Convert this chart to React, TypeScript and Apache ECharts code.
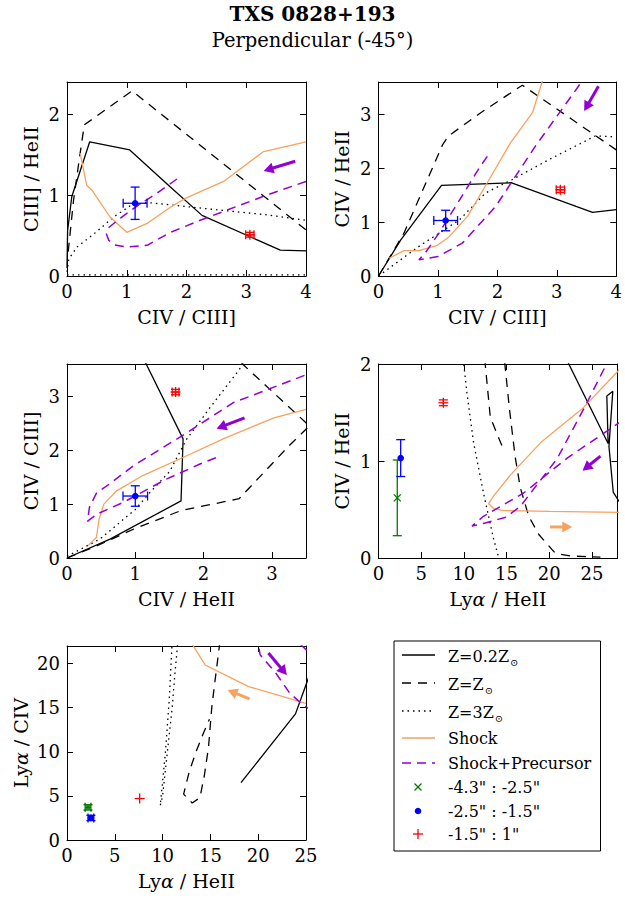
import React, { useEffect, useRef } from "react";
import * as echarts from "echarts";

const FONT = '"DejaVu Serif", "Liberation Serif", serif';
const BLACK = "#000000";
const ORANGE = "#f7a25e";
const PURPLE = "#9400d3";
const GREEN = "#007a00";
const BLUE = "#0000ff";
const RED = "#ff0000";

// ---------- Panel 1: CIV/CIII] vs CIII]/HeII ----------
const p1Z02 = [[0, 0.1], [0.01, 0.56], [0.08, 0.98], [0.38, 1.66], [1.05, 1.56], [1.73, 1.1], [2.26, 0.75], [3.57, 0.32], [4.0, 0.31]];
const p1Z1 = [[0.02, 0.3], [0.11, 0.94], [0.22, 1.52], [0.29, 1.87], [1.09, 2.29], [4.0, 0.57]];
const p1Z3 = [[0.0, 0.05], [0.03, 0.21], [0.17, 0.36], [0.45, 0.52], [0.78, 0.73], [1.06, 0.87], [1.34, 0.91], [1.73, 0.88], [2.5, 0.82], [3.3, 0.76], [4.0, 0.69]];
const p1Z3Floor = [[0, 0.015], [4, 0.015]];
const p1Shock = [[0.22, 1.52], [0.33, 1.12], [0.42, 1.06], [0.72, 0.73], [1.0, 0.54], [1.34, 0.65], [1.73, 0.85], [1.98, 0.96], [2.62, 1.17], [3.29, 1.54], [4.0, 1.66]];
const p1Prec = [[1.84, 1.2], [1.5, 1.02], [1.2, 0.88], [0.9, 0.72], [0.7, 0.6], [0.66, 0.52], [0.7, 0.44], [0.82, 0.38], [1.0, 0.36], [1.34, 0.38], [1.73, 0.54], [2.23, 0.69], [3.34, 1.0], [4.0, 1.17]];
const p1PrecArrow = [[3.82, 1.42, 3.29, 1.3]];
const p1Blue = [[1.14, 0.9, 0.2, 0.2]];
const p1Red = [[3.06, 0.51, 0.07, 0.03]];

// ---------- Panel 2: CIV/CIII] vs CIV/HeII ----------
const p2Z02 = [[0, 0], [0.375, 0.67], [1.06, 1.68], [2.24, 1.73], [3.6, 1.18], [4.0, 1.23]];
const p2Z1 = [[0, 0], [0.43, 0.8], [1.08, 2.44], [1.18, 2.6], [1.72, 3.03], [2.42, 3.54], [4.0, 2.34]];
const p2Z3 = [[0, 0], [0.68, 0.55], [1.36, 1.04], [1.8, 1.54], [2.25, 1.79], [2.92, 2.19], [3.65, 2.6], [4.0, 2.58]];
const p2Shock = [[0.18, 0.33], [0.43, 0.47], [0.68, 0.47], [0.99, 0.57], [1.19, 0.73], [1.5, 1.11], [1.83, 1.73], [2.22, 2.47], [2.59, 3.03], [2.78, 3.7]];
const p2Prec = [[1.83, 2.22], [1.68, 1.98], [1.47, 1.6], [1.02, 0.8], [0.8, 0.45], [0.68, 0.3], [1.0, 0.36], [1.41, 0.61], [1.97, 1.29], [2.64, 2.41], [3.37, 3.53], [3.45, 3.7]];
const p2PrecArrow = [[3.7, 3.52, 3.46, 3.06]];
const p2Blue = [[1.13, 1.03, 0.2, 0.19]];
const p2Red = [[3.06, 1.6, 0.07, 0.05]];

// ---------- Panel 3: CIV/HeII vs CIV/CIII] ----------
const p3Z02 = [[0, 0], [0.63, 0.35], [1.67, 1.06], [1.7, 2.21], [1.16, 3.6], [1.1, 3.7]];
const p3Z1 = [[0, 0], [0.43, 0.22], [1.0, 0.55], [1.67, 0.88], [2.52, 1.1], [3.25, 2.08], [3.55, 2.45], [2.57, 3.6], [2.5, 3.7]];
const p3Z3 = [[0, 0.03], [0.48, 0.35], [1.0, 0.9], [1.21, 1.21], [1.5, 1.6], [1.75, 2.2], [2.1, 2.8], [2.52, 3.49], [2.6, 3.65]];
const p3Shock = [[0.31, 0.23], [0.43, 0.38], [0.47, 0.72], [0.54, 1.0], [0.72, 1.24], [1.11, 1.53], [1.69, 1.86], [2.32, 2.23], [3.03, 2.6], [3.5, 2.76]];
const p3Prec = [[2.18, 1.86], [1.94, 1.74], [1.45, 1.46], [0.82, 1.03], [0.45, 0.82], [0.34, 0.72], [0.3, 0.68], [0.33, 0.95], [0.43, 1.2], [0.65, 1.4], [0.97, 1.71], [1.75, 2.32], [2.43, 2.88], [3.5, 3.4]];
const p3PrecArrow = [[2.6, 2.6, 2.19, 2.4]];
const p3Blue = [[1.0, 1.15, 0.18, 0.19]];
const p3Red = [[1.59, 3.08, 0.05, 0.05]];

// ---------- Panel 4: Lya/HeII vs CIV/HeII ----------
const p4Z02 = [[21.9, 2.07], [26.9, 1.18], [26.75, 1.67], [27.45, 1.72], [27.0, 1.15], [27.5, 0.68], [28.2, 0.58]];
const p4Z1 = [[14.45, 1.16], [13.1, 1.45], [12.5, 2.0], [12.4, 2.3], [14.7, 2.3], [14.8, 2.0], [15.35, 1.53], [16.0, 1.05], [16.6, 0.73], [17.6, 0.43], [18.8, 0.24], [20.7, 0.05], [22.5, 0.02], [26.0, 0.01]];
const p4Z3 = [[9.9, 2.05], [10.0, 1.99], [10.36, 1.7], [11.14, 1.19], [12.3, 0.67], [13.5, 0.19], [14.1, 0.0]];
const p4Shock = [[28.3, 1.95], [24, 1.55], [19, 1.19], [15.5, 0.86], [13.5, 0.64], [12.9, 0.56], [13.5, 0.51], [14.5, 0.49], [20, 0.48], [28.3, 0.47]];
const p4Prec = [[27.0, 2.1], [26.6, 1.98], [24.3, 1.58], [20.9, 1.02], [18.6, 0.76], [16.6, 0.53], [14.9, 0.42], [12.5, 0.36], [10.95, 0.33], [12.3, 0.43], [17.0, 0.67], [22.1, 1.03], [28.3, 1.4]];
const p4PrecArrow = [[26.0, 1.05, 23.9, 0.9]];
const p4ShockArrow = [[20.1, 0.32, 22.7, 0.32]];
const p4Green = [[2.2, 0.62, 0, 0.39]];
const p4Blue = [[2.6, 1.03, 0, 0.19]];
const p4Red = [[7.6, 1.6, 0, 0.03]];

// ---------- Panel 5: Lya/HeII vs Lya/CIV ----------
const p5Z02 = [[18.2, 6.5], [23.9, 14.3], [25.3, 18.5]];
const p5Z1 = [[16.0, 22.5], [15.5, 18.2], [15.15, 15.1], [14.8, 10.5], [14.35, 7.2], [13.9, 4.8], [13.1, 4.2], [12.2, 5.2], [12.8, 7.8], [13.6, 10.3], [14.3, 12.2], [14.9, 13.7]];
const p5Z3 = [[11.0, 22.5], [10.7, 16], [10.3, 10], [9.9, 5.5], [9.75, 3.9], [10.0, 5.0], [10.5, 10], [11.0, 15], [11.3, 19], [11.6, 22.5]];
const p5Shock = [[13.1, 22.2], [14.45, 19.85], [19.0, 17.4], [25.0, 15.5]];
const p5Prec = [[24.4, 22.2], [25.3, 21.3], [25.3, 23], [19.9, 23], [20.2, 21.0], [21.8, 19.0], [23.3, 16.65], [24.7, 15.3], [25.3, 14.9]];
const p5PrecArrow = [[21.07, 21.2, 23.0, 18.7]];
const p5ShockArrow = [[19.1, 16.0, 16.8, 17.0]];
const p5Green = [[2.2, 3.7, 0.3, 0.3]];
const p5Blue = [[2.5, 2.5, 0.3, 0.3]];
const p5Red = [[7.6, 4.7, 0, 0]];

// axis extents [min, max, step] and titles
const xRanges = [[0, 4, 1], [0, 4, 1], [0, 3.5, 1], [0, 28, 5], [0, 25, 5]];
const yRanges = [[0, 2.4, 1], [0, 3.6, 1], [0, 3.6, 1], [0, 2, 1], [0, 22, 5]];
const xNames = ["CIV / CIII]", "CIV / CIII]", "CIV / HeII", "Ly{g|α} / HeII", "Ly{g|α} / HeII"];
const yNames = ["CIII] / HeII", "CIV / HeII", "CIV / CIII]", "CIV / HeII", "Ly{g|α} / CIV"];

const GRID_POS = [[67, 82], [378.5, 82], [67, 364], [378.5, 364], [67, 646]];
const GRID_W = 239;
const GRID_H = 194;

const DASH = [9, 7];
const DOT = [1.5, 4];
const PDASH = [9, 6];

const nameStyle = {
  fontFamily: FONT,
  fontSize: 19,
  color: BLACK,
  rich: { g: { fontFamily: FONT, fontSize: 19, fontStyle: "italic", color: BLACK } },
};

function tickFormatter(step: number) {
  return (v: number) => {
    const k = v / step;
    return Math.abs(k - Math.round(k)) < 1e-6 ? String(Math.round(v)) : "";
  };
}

function makeAxes(i: number) {
  const [xmin, xmax, xstep] = xRanges[i];
  const [ymin, ymax, ystep] = yRanges[i];
  const line = { show: true, onZero: false, lineStyle: { color: BLACK, width: 1 } };
  const tick = { show: true, inside: true, length: 6, lineStyle: { color: BLACK, width: 1 } };
  const label = { fontFamily: FONT, fontSize: 18, color: BLACK };
  const xBottom = {
    type: "value", gridIndex: i, position: "bottom", min: xmin, max: xmax, interval: xstep,
    axisLine: line, axisTick: tick, splitLine: { show: false },
    axisLabel: { ...label, margin: 6, formatter: tickFormatter(xstep) },
    name: xNames[i], nameLocation: "middle", nameGap: 31, nameTextStyle: nameStyle,
  };
  const xTop = {
    type: "value", gridIndex: i, position: "top", min: xmin, max: xmax, interval: xstep,
    axisLine: line, axisTick: tick, splitLine: { show: false }, axisLabel: { show: false },
  };
  const yLeft = {
    type: "value", gridIndex: i, position: "left", min: ymin, max: ymax, interval: ystep,
    axisLine: line, axisTick: tick, splitLine: { show: false },
    axisLabel: { ...label, margin: 7, formatter: tickFormatter(ystep) },
    name: yNames[i], nameLocation: "middle", nameGap: i === 4 ? 37 : 27, nameRotate: 90, nameTextStyle: nameStyle,
  };
  const yRight = {
    type: "value", gridIndex: i, position: "right", min: ymin, max: ymax, interval: ystep,
    axisLine: line, axisTick: tick, splitLine: { show: false }, axisLabel: { show: false },
  };
  return { x: [xBottom, xTop], y: [yLeft, yRight] };
}

function curve(i: number, data: number[][], color: string, type: any, width: number) {
  return {
    type: "line", xAxisIndex: 2 * i, yAxisIndex: 2 * i, data,
    showSymbol: false, symbol: "none", silent: true, clip: true, z: 2,
    lineStyle: { color, width, type },
  };
}

function arrowSeries(i: number, data: number[][], color: string) {
  return {
    type: "custom", coordinateSystem: "cartesian2d", xAxisIndex: 2 * i, yAxisIndex: 2 * i,
    data, silent: true, z: 4, encode: { x: [0, 2], y: [1, 3] },
    renderItem: (_p: any, api: any) => {
      const a = api.coord([api.value(0), api.value(1)]);
      const b = api.coord([api.value(2), api.value(3)]);
      const dx = b[0] - a[0];
      const dy = b[1] - a[1];
      const len = Math.hypot(dx, dy) || 1;
      const ux = dx / len, uy = dy / len;
      const px = -uy, py = ux;
      const hl = 10, hw = 5.5;
      const bx = b[0] - ux * hl, by = b[1] - uy * hl;
      return {
        type: "group",
        children: [
          { type: "line", shape: { x1: a[0], y1: a[1], x2: bx + ux, y2: by + uy }, style: { stroke: color, lineWidth: 3 } },
          { type: "polygon", shape: { points: [[b[0], b[1]], [bx + px * hw, by + py * hw], [bx - px * hw, by - py * hw]] }, style: { fill: color } },
        ],
      };
    },
  };
}

function markerShapes(kind: string, cx: number, cy: number, color: string) {
  const st = { stroke: color, lineWidth: 1.3 };
  if (kind === "dot") return [{ type: "circle", shape: { cx, cy, r: 3.3 }, style: { fill: color } }];
  if (kind === "plus") {
    const s = 5;
    return [
      { type: "line", shape: { x1: cx - s, y1: cy, x2: cx + s, y2: cy }, style: st },
      { type: "line", shape: { x1: cx, y1: cy - s, x2: cx, y2: cy + s }, style: st },
    ];
  }
  const s = 3.5;
  return [
    { type: "line", shape: { x1: cx - s, y1: cy - s, x2: cx + s, y2: cy + s }, style: st },
    { type: "line", shape: { x1: cx - s, y1: cy + s, x2: cx + s, y2: cy - s }, style: st },
  ];
}

function obsSeries(i: number, data: number[][], color: string, kind: string) {
  return {
    type: "custom", coordinateSystem: "cartesian2d", xAxisIndex: 2 * i, yAxisIndex: 2 * i,
    data, silent: true, z: 5, encode: { x: 0, y: 1 },
    renderItem: (_p: any, api: any) => {
      const x = api.value(0), y = api.value(1), xe = api.value(2), ye = api.value(3);
      const c = api.coord([x, y]);
      const st = { stroke: color, lineWidth: 1.3 };
      const cap = 4.5;
      const children: any[] = [];
      if (xe > 0) {
        const l = api.coord([x - xe, y]);
        const r = api.coord([x + xe, y]);
        children.push({ type: "line", shape: { x1: l[0], y1: l[1], x2: r[0], y2: r[1] }, style: st });
        children.push({ type: "line", shape: { x1: l[0], y1: l[1] - cap, x2: l[0], y2: l[1] + cap }, style: st });
        children.push({ type: "line", shape: { x1: r[0], y1: r[1] - cap, x2: r[0], y2: r[1] + cap }, style: st });
      }
      if (ye > 0) {
        const t = api.coord([x, y + ye]);
        const b = api.coord([x, y - ye]);
        children.push({ type: "line", shape: { x1: t[0], y1: t[1], x2: b[0], y2: b[1] }, style: st });
        children.push({ type: "line", shape: { x1: t[0] - cap, y1: t[1], x2: t[0] + cap, y2: t[1] }, style: st });
        children.push({ type: "line", shape: { x1: b[0] - cap, y1: b[1], x2: b[0] + cap, y2: b[1] }, style: st });
      }
      children.push(...markerShapes(kind, c[0], c[1], color));
      return { type: "group", children };
    },
  };
}

function legendGraphic() {
  const ctx = document.createElement("canvas").getContext("2d");
  const measure = (s: string) => {
    if (!ctx) return s.length * 9;
    ctx.font = `16px ${FONT}`;
    return ctx.measureText(s).width;
  };
  const x0 = 402, x1 = 435, tx = 448, mx = 418;
  const els: any[] = [
    { type: "rect", shape: { x: 394, y: 641, width: 206.5, height: 210 }, style: { fill: "#fff", stroke: BLACK, lineWidth: 1 }, z: 10 },
  ];
  const lineRows: [number, string, string, any][] = [
    [655, "Z=0.2Z", BLACK, "solid"],
    [683, "Z=Z", BLACK, DASH],
    [711, "Z=3Z", BLACK, DOT],
    [738, "Shock", ORANGE, "solid"],
    [763, "Shock+Precursor", PURPLE, PDASH],
  ];
  lineRows.forEach(([y, label, color, dash], k) => {
    els.push({
      type: "line", shape: { x1: x0, y1: y, x2: x1, y2: y }, z: 11,
      style: { stroke: color, lineWidth: k === 4 ? 1.5 : 1.3, lineDash: dash === "solid" ? null : dash },
    });
    const sub = k < 3;
    els.push({
      type: "text", x: tx, y: sub ? y + 1 : y, z: 11,
      style: { text: label, fontFamily: FONT, fontSize: 16, fill: BLACK, align: "left", verticalAlign: "middle" },
    });
    if (sub) {
      els.push({
        type: "text", x: tx + measure(label) + 1, y: y + 7, z: 11,
        style: { text: "⊙", fontFamily: FONT, fontSize: 10, fill: BLACK, align: "left", verticalAlign: "middle" },
      });
    }
  });
  const markRows: [number, string, string, string][] = [
    [787, '-4.3" : -2.5"', GREEN, "cross"],
    [811, '-2.5" : -1.5"', BLUE, "dot"],
    [834, '-1.5" : 1"', RED, "plus"],
  ];
  markRows.forEach(([y, label, color, kind]) => {
    markerShapes(kind, mx, y, color).forEach((m: any) => els.push({ ...m, z: 11 }));
    els.push({
      type: "text", x: tx, y, z: 11,
      style: { text: label, fontFamily: FONT, fontSize: 16, fill: BLACK, align: "left", verticalAlign: "middle" },
    });
  });
  return els;
}

function buildOption() {
  const xAxis: any[] = [];
  const yAxis: any[] = [];
  const grid: any[] = [];
  for (let i = 0; i < 5; i++) {
    grid.push({ left: GRID_POS[i][0], top: GRID_POS[i][1], width: GRID_W, height: GRID_H, containLabel: false });
    const ax = makeAxes(i);
    xAxis.push(...ax.x);
    yAxis.push(...ax.y);
  }
  const series: any[] = [
    curve(0, p1Z02, BLACK, "solid", 1.3),
    curve(0, p1Z1, BLACK, DASH, 1.3),
    curve(0, p1Z3, BLACK, DOT, 1.3),
    curve(0, p1Z3Floor, BLACK, DOT, 1.3),
    curve(0, p1Shock, ORANGE, "solid", 1.3),
    curve(0, p1Prec, PURPLE, PDASH, 1.5),
    arrowSeries(0, p1PrecArrow, PURPLE),
    obsSeries(0, p1Blue, BLUE, "dot"),
    obsSeries(0, p1Red, RED, "plus"),

    curve(1, p2Z02, BLACK, "solid", 1.3),
    curve(1, p2Z1, BLACK, DASH, 1.3),
    curve(1, p2Z3, BLACK, DOT, 1.3),
    curve(1, p2Shock, ORANGE, "solid", 1.3),
    curve(1, p2Prec, PURPLE, PDASH, 1.5),
    arrowSeries(1, p2PrecArrow, PURPLE),
    obsSeries(1, p2Blue, BLUE, "dot"),
    obsSeries(1, p2Red, RED, "plus"),

    curve(2, p3Z02, BLACK, "solid", 1.3),
    curve(2, p3Z1, BLACK, DASH, 1.3),
    curve(2, p3Z3, BLACK, DOT, 1.3),
    curve(2, p3Shock, ORANGE, "solid", 1.3),
    curve(2, p3Prec, PURPLE, PDASH, 1.5),
    arrowSeries(2, p3PrecArrow, PURPLE),
    obsSeries(2, p3Blue, BLUE, "dot"),
    obsSeries(2, p3Red, RED, "plus"),

    curve(3, p4Z02, BLACK, "solid", 1.3),
    curve(3, p4Z1, BLACK, DASH, 1.3),
    curve(3, p4Z3, BLACK, DOT, 1.3),
    curve(3, p4Shock, ORANGE, "solid", 1.3),
    curve(3, p4Prec, PURPLE, PDASH, 1.5),
    arrowSeries(3, p4PrecArrow, PURPLE),
    arrowSeries(3, p4ShockArrow, ORANGE),
    obsSeries(3, p4Green, GREEN, "cross"),
    obsSeries(3, p4Blue, BLUE, "dot"),
    obsSeries(3, p4Red, RED, "plus"),

    curve(4, p5Z02, BLACK, "solid", 1.3),
    curve(4, p5Z1, BLACK, DASH, 1.3),
    curve(4, p5Z3, BLACK, DOT, 1.3),
    curve(4, p5Shock, ORANGE, "solid", 1.3),
    curve(4, p5Prec, PURPLE, PDASH, 1.5),
    arrowSeries(4, p5PrecArrow, PURPLE),
    arrowSeries(4, p5ShockArrow, ORANGE),
    obsSeries(4, p5Green, GREEN, "cross"),
    obsSeries(4, p5Blue, BLUE, "dot"),
    obsSeries(4, p5Red, RED, "plus"),
  ];
  return {
    animation: false,
    backgroundColor: "#ffffff",
    title: [
      { text: "TXS 0828+193", left: "center", top: -1, textStyle: { fontFamily: FONT, fontSize: 20, fontWeight: "bold", color: BLACK } },
      { text: "Perpendicular (-45°)", left: "center", top: 25, textStyle: { fontFamily: FONT, fontSize: 19.5, fontWeight: "normal", color: BLACK } },
    ],
    grid,
    xAxis,
    yAxis,
    series,
    graphic: legendGraphic(),
  };
}

export default function App() {
  const ref = useRef<HTMLDivElement>(null);
  useEffect(() => {
    if (!ref.current) return;
    const chart = echarts.init(ref.current, null, { renderer: "svg" });
    chart.setOption(buildOption() as any);
    return () => chart.dispose();
  }, []);
  return (
    <div
      ref={ref}
      style={{ position: "absolute", left: 0, top: 0, width: 625, height: 898, background: "#fff" }}
    />
  );
}
